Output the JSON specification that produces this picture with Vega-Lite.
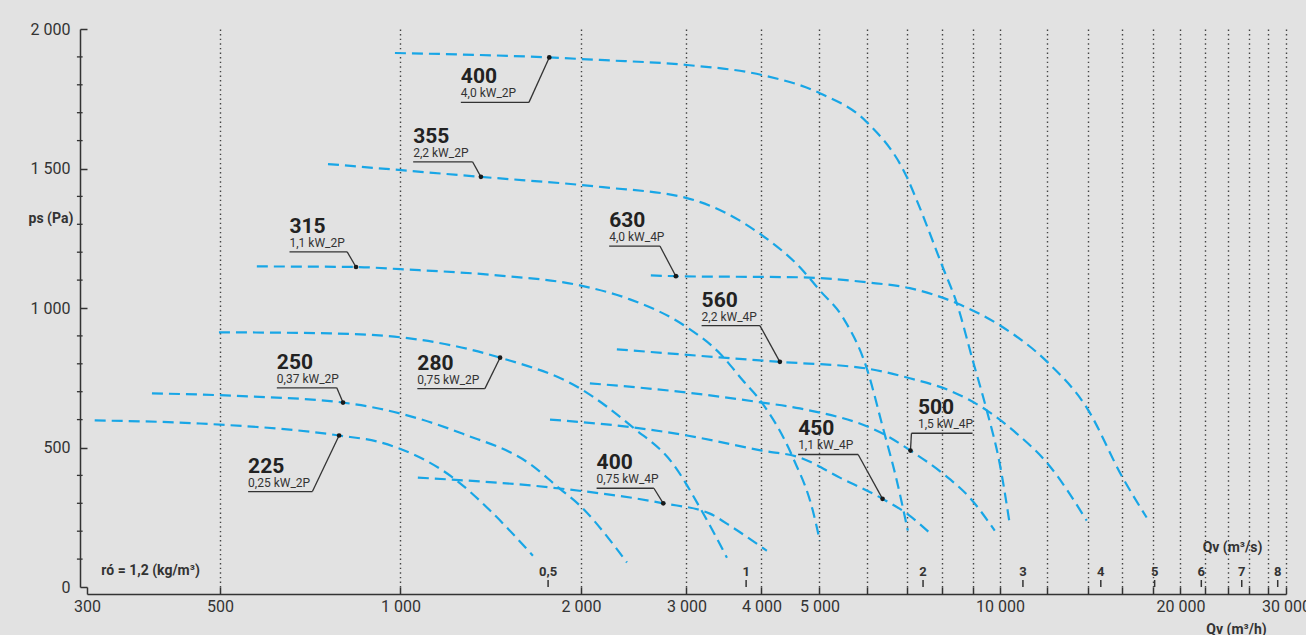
{
  "$schema": "https://vega.github.io/schema/vega-lite/v6.json",
  "width": 1199,
  "height": 558,
  "autosize": {"type": "none"},
  "padding": {"left": 87, "top": 29, "right": 20, "bottom": 48},
  "background": "#e2e2e2",
  "config": {"view": {"stroke": null}, "font": "Roboto"},
  "datasets": {
    "curves": [
      {"fan": "400_2P", "q": 979, "p": 1914}, {"fan": "400_2P", "q": 1771, "p": 1898}, {"fan": "400_2P", "q": 2151, "p": 1889}, {"fan": "400_2P", "q": 3005, "p": 1871}, {"fan": "400_2P", "q": 4007, "p": 1835}, {"fan": "400_2P", "q": 5006, "p": 1770}, {"fan": "400_2P", "q": 5997, "p": 1666}, {"fan": "400_2P", "q": 6993, "p": 1469}, {"fan": "400_2P", "q": 7265, "p": 1386}, {"fan": "400_2P", "q": 8028, "p": 1146}, {"fan": "400_2P", "q": 8472, "p": 1017}, {"fan": "400_2P", "q": 9008, "p": 812}, {"fan": "400_2P", "q": 9506, "p": 633}, {"fan": "400_2P", "q": 9991, "p": 442}, {"fan": "400_2P", "q": 10380, "p": 227},
      {"fan": "355_2P", "q": 757, "p": 1516}, {"fan": "355_2P", "q": 1362, "p": 1470}, {"fan": "355_2P", "q": 2176, "p": 1433}, {"fan": "355_2P", "q": 3005, "p": 1394}, {"fan": "355_2P", "q": 4007, "p": 1261}, {"fan": "355_2P", "q": 4637, "p": 1146}, {"fan": "355_2P", "q": 5006, "p": 1063}, {"fan": "355_2P", "q": 5469, "p": 966}, {"fan": "355_2P", "q": 5997, "p": 783}, {"fan": "355_2P", "q": 6377, "p": 572}, {"fan": "355_2P", "q": 6729, "p": 381}, {"fan": "355_2P", "q": 7019, "p": 202},
      {"fan": "315_2P", "q": 576, "p": 1149}, {"fan": "315_2P", "q": 843, "p": 1147}, {"fan": "315_2P", "q": 1000, "p": 1139}, {"fan": "315_2P", "q": 1449, "p": 1117}, {"fan": "315_2P", "q": 1992, "p": 1081}, {"fan": "315_2P", "q": 2414, "p": 1031}, {"fan": "315_2P", "q": 3005, "p": 931}, {"fan": "315_2P", "q": 3411, "p": 837}, {"fan": "315_2P", "q": 3726, "p": 740}, {"fan": "315_2P", "q": 4007, "p": 661}, {"fan": "315_2P", "q": 4514, "p": 464}, {"fan": "315_2P", "q": 4873, "p": 274}, {"fan": "315_2P", "q": 5006, "p": 166},
      {"fan": "630_4P", "q": 2616, "p": 1117}, {"fan": "630_4P", "q": 2880, "p": 1114}, {"fan": "630_4P", "q": 4637, "p": 1110}, {"fan": "630_4P", "q": 5997, "p": 1092}, {"fan": "630_4P", "q": 7073, "p": 1071}, {"fan": "630_4P", "q": 8472, "p": 1017}, {"fan": "630_4P", "q": 9991, "p": 938}, {"fan": "630_4P", "q": 12013, "p": 805}, {"fan": "630_4P", "q": 13953, "p": 643}, {"fan": "630_4P", "q": 16020, "p": 392}, {"fan": "630_4P", "q": 17566, "p": 249},
      {"fan": "560_4P", "q": 2296, "p": 852}, {"fan": "560_4P", "q": 3411, "p": 823}, {"fan": "560_4P", "q": 4294, "p": 807}, {"fan": "560_4P", "q": 5997, "p": 783}, {"fan": "560_4P", "q": 7073, "p": 748}, {"fan": "560_4P", "q": 8247, "p": 704}, {"fan": "560_4P", "q": 9506, "p": 633}, {"fan": "560_4P", "q": 10666, "p": 550}, {"fan": "560_4P", "q": 12013, "p": 442}, {"fan": "560_4P", "q": 13953, "p": 238},
      {"fan": "500_4P", "q": 2070, "p": 730}, {"fan": "500_4P", "q": 3005, "p": 697}, {"fan": "500_4P", "q": 4007, "p": 661}, {"fan": "500_4P", "q": 4637, "p": 640}, {"fan": "500_4P", "q": 6551, "p": 536}, {"fan": "500_4P", "q": 7091, "p": 489}, {"fan": "500_4P", "q": 8028, "p": 407}, {"fan": "500_4P", "q": 8905, "p": 320}, {"fan": "500_4P", "q": 9802, "p": 202},
      {"fan": "450_4P", "q": 1776, "p": 600}, {"fan": "450_4P", "q": 2442, "p": 572}, {"fan": "450_4P", "q": 3005, "p": 543}, {"fan": "450_4P", "q": 4007, "p": 489}, {"fan": "450_4P", "q": 4637, "p": 464}, {"fan": "450_4P", "q": 5406, "p": 392}, {"fan": "450_4P", "q": 6370, "p": 316}, {"fan": "450_4P", "q": 6993, "p": 263}, {"fan": "450_4P", "q": 7725, "p": 184},
      {"fan": "400_4P", "q": 1069, "p": 392}, {"fan": "400_4P", "q": 1845, "p": 353}, {"fan": "400_4P", "q": 2744, "p": 300}, {"fan": "400_4P", "q": 3282, "p": 263}, {"fan": "400_4P", "q": 3584, "p": 213}, {"fan": "400_4P", "q": 4085, "p": 130},
      {"fan": "280_2P", "q": 498, "p": 913}, {"fan": "280_2P", "q": 763, "p": 909}, {"fan": "280_2P", "q": 1000, "p": 895}, {"fan": "280_2P", "q": 1466, "p": 822}, {"fan": "280_2P", "q": 1992, "p": 712}, {"fan": "280_2P", "q": 2442, "p": 572}, {"fan": "280_2P", "q": 2847, "p": 442}, {"fan": "280_2P", "q": 3158, "p": 285}, {"fan": "280_2P", "q": 3504, "p": 105},
      {"fan": "250_2P", "q": 385, "p": 694}, {"fan": "250_2P", "q": 561, "p": 683}, {"fan": "250_2P", "q": 802, "p": 661}, {"fan": "250_2P", "q": 924, "p": 639}, {"fan": "250_2P", "q": 1271, "p": 549}, {"fan": "250_2P", "q": 1644, "p": 441}, {"fan": "250_2P", "q": 1845, "p": 352}, {"fan": "250_2P", "q": 1992, "p": 292}, {"fan": "250_2P", "q": 2262, "p": 154}, {"fan": "250_2P", "q": 2386, "p": 88},
      {"fan": "225_2P", "q": 309, "p": 597}, {"fan": "225_2P", "q": 463, "p": 586}, {"fan": "225_2P", "q": 790, "p": 543}, {"fan": "225_2P", "q": 924, "p": 519}, {"fan": "225_2P", "q": 1242, "p": 381}, {"fan": "225_2P", "q": 1411, "p": 274}, {"fan": "225_2P", "q": 1663, "p": 112}
    ],
    "labels": [
      {"size": "400", "power": "4,0 kW_2P", "tx": 1261, "lx": 1261, "rx": 1638, "ly": 1737, "cx": 1638, "dq": 1771, "dp": 1898},
      {"size": "355", "power": "2,2 kW_2P", "tx": 1050, "lx": 1050, "rx": 1319, "ly": 1524, "cx": 1319, "dq": 1362, "dp": 1470},
      {"size": "315", "power": "1,1 kW_2P", "tx": 653, "lx": 653, "rx": 815, "ly": 1201, "cx": 815, "dq": 843, "dp": 1147},
      {"size": "630", "power": "4,0 kW_4P", "tx": 2229, "lx": 2229, "rx": 2709, "ly": 1222, "cx": 2709, "dq": 2880, "dp": 1114},
      {"size": "560", "power": "2,2 kW_4P", "tx": 3179, "lx": 3179, "rx": 3977, "ly": 937, "cx": 3977, "dq": 4294, "dp": 807},
      {"size": "280", "power": "0,75 kW_2P", "tx": 1067, "lx": 1067, "rx": 1383, "ly": 711, "cx": 1383, "dq": 1466, "dp": 822},
      {"size": "250", "power": "0,37 kW_2P", "tx": 622, "lx": 622, "rx": 783, "ly": 714, "cx": 783, "dq": 802, "dp": 661},
      {"size": "225", "power": "0,25 kW_2P", "tx": 557, "lx": 557, "rx": 713, "ly": 342, "cx": 713, "dq": 790, "dp": 543},
      {"size": "400", "power": "0,75 kW_4P", "tx": 2124, "lx": 2124, "rx": 2647, "ly": 354, "cx": 2647, "dq": 2744, "dp": 300},
      {"size": "450", "power": "1,1 kW_4P", "tx": 4606, "lx": 4606, "rx": 5800, "ly": 475, "cx": 5800, "dq": 6370, "dp": 316},
      {"size": "500", "power": "1,5 kW_4P", "tx": 7296, "lx": 7118, "rx": 9000, "ly": 551, "cx": 7118, "dq": 7091, "dp": 489}
    ],
    "minor": [
      {"p": 100}, {"p": 200}, {"p": 300}, {"p": 400}, {"p": 600}, {"p": 700}, {"p": 800}, {"p": 900}, {"p": 1100}, {"p": 1200}, {"p": 1300}, {"p": 1400}, {"p": 1600}, {"p": 1700}, {"p": 1800}, {"p": 1900}
    ],
    "ms": [
      {"ms": "0,5", "q": 1763}, {"ms": "1", "q": 3772}, {"ms": "2", "q": 7442}, {"ms": "3", "q": 10922}, {"ms": "4", "q": 14730}, {"ms": "5", "q": 18113}, {"ms": "6", "q": 21670}, {"ms": "7", "q": 25310}, {"ms": "8", "q": 29060}
    ],
    "notes": [
      {"t": "ró = 1,2 (kg/m³)", "q": 317, "p": 57},
      {"t": "Qv (m³/s)", "q": 21780, "p": 141}
    ]
  },
  "layer": [
    {
      "data": {"name": "curves"},
      "mark": {"type": "line", "color": "#18a6e6", "strokeWidth": 2.2, "strokeDash": [11, 6], "interpolate": "monotone"},
      "encoding": {
        "x": {
          "field": "q", "type": "quantitative",
          "scale": {"type": "log", "domain": [300, 30000], "nice": false},
          "axis": {
            "values": [300, 500, 1000, 2000, 3000, 4000, 5000, 6000, 7000, 8000, 9000, 10000, 12000, 14000, 16000, 18000, 20000, 22000, 24000, 26000, 28000, 30000],
            "labelExpr": "indexof([300,500,1000,2000,3000,4000,5000,10000,20000,30000], datum.value) >= 0 ? replace(format(datum.value, ','), ',', ' ') : ''",
            "offset": 7,
            "domainColor": "#333", "domainWidth": 1.5,
            "ticks": true, "tickSize": -7, "tickColor": "#333", "tickWidth": 1.5,
            "grid": true, "gridColor": "#444", "gridWidth": 1.4, "gridDash": [1.4, 3.2],
            "gridOpacity": {"condition": {"test": "datum.value > 300", "value": 1}, "value": 0},
            "labelFont": "Roboto", "labelFontSize": 16, "labelColor": "#333", "labelPadding": 11,
            "labelFlush": false, "labelOverlap": false, "labelBound": false,
            "title": "Qv (m³/h)", "titleFont": "Roboto", "titleFontSize": 14, "titleFontWeight": "bold", "titleColor": "#333",
            "titleX": 1149, "titleY": 35, "titleAlign": "center", "titleBaseline": "middle"
          }
        },
        "y": {
          "field": "p", "type": "quantitative",
          "scale": {"domain": [0, 2000], "nice": false},
          "axis": {
            "values": [0, 500, 1000, 1500, 2000],
            "labelExpr": "replace(format(datum.value, ','), ',', ' ')",
            "offset": 7,
            "domainColor": "#333", "domainWidth": 1.5,
            "tickSize": -7,
            "tickColor": "#333", "tickWidth": 1.5,
            "grid": false,
            "labelFont": "Roboto", "labelFontSize": 16, "labelColor": "#333", "labelPadding": 17, "labelOverlap": false, "labelBound": false, "labelFlush": false,
            "title": "ps (Pa)", "titleAngle": 0, "titleX": -52, "titleY": 189, "titleAlign": "left", "titleBaseline": "middle",
            "titleFont": "Roboto", "titleFontSize": 14, "titleFontWeight": "bold", "titleColor": "#333"
          }
        },
        "detail": {"field": "fan"}
      }
    },
    {
      "mark": {"type": "rule", "color": "#333", "strokeWidth": 1.5},
      "encoding": {"x": {"datum": 300}, "y": {"datum": 0}, "y2": {"datum": 2000}}
    },
    {
      "mark": {"type": "rule", "color": "#333", "strokeWidth": 1.5},
      "encoding": {"y": {"datum": 0}, "x": {"datum": 300}, "x2": {"datum": 30000}}
    },
    {
      "mark": {"type": "rule", "color": "#333", "strokeWidth": 1.5},
      "encoding": {"x": {"datum": 292}, "y": {"datum": 0}, "y2": {"datum": -26}}
    },
    {
      "mark": {"type": "rule", "color": "#333", "strokeWidth": 1.5},
      "encoding": {"y": {"datum": -26}, "x": {"datum": 292}, "x2": {"datum": 300}}
    },
    {
      "data": {"name": "minor"},
      "mark": {"type": "rule", "color": "#333", "strokeWidth": 1.3},
      "encoding": {"y": {"field": "p", "type": "quantitative"}, "x": {"datum": 288.6}, "x2": {"datum": 295}}
    },
    {
      "mark": {"type": "rule", "color": "#444", "strokeWidth": 1.4, "strokeDash": [1.4, 3.2]},
      "encoding": {"y": {"datum": 2000}, "x": {"datum": 300}, "x2": {"datum": 30000}}
    },
    {
      "data": {"name": "ms"},
      "mark": {"type": "rule", "color": "#333", "strokeWidth": 1.5},
      "encoding": {"x": {"field": "q", "type": "quantitative"}, "y": {"datum": 0}, "y2": {"datum": 25}}
    },
    {
      "data": {"name": "ms"},
      "mark": {"type": "text", "font": "Roboto", "fontSize": 13, "fontWeight": "bold", "color": "#333", "baseline": "middle", "align": "center"},
      "encoding": {"x": {"field": "q", "type": "quantitative"}, "y": {"datum": 52}, "text": {"field": "ms"}}
    },
    {
      "data": {"name": "notes"},
      "mark": {"type": "text", "font": "Roboto", "fontSize": 14, "fontWeight": "bold", "color": "#333", "baseline": "middle", "align": "left"},
      "encoding": {"x": {"field": "q", "type": "quantitative"}, "y": {"field": "p", "type": "quantitative"}, "text": {"field": "t"}}
    },
    {
      "data": {"name": "labels"},
      "mark": {"type": "rule", "color": "#333", "strokeWidth": 1.3},
      "encoding": {"x": {"field": "lx", "type": "quantitative"}, "x2": {"field": "rx"}, "y": {"field": "ly", "type": "quantitative"}}
    },
    {
      "data": {"name": "labels"},
      "mark": {"type": "rule", "color": "#333", "strokeWidth": 1.3},
      "encoding": {"x": {"field": "cx", "type": "quantitative"}, "x2": {"field": "dq"}, "y": {"field": "ly", "type": "quantitative"}, "y2": {"field": "dp"}}
    },
    {
      "data": {"name": "labels"},
      "mark": {"type": "point", "filled": true, "color": "#1a1a1a", "size": 22, "opacity": 1},
      "encoding": {"x": {"field": "dq", "type": "quantitative"}, "y": {"field": "dp", "type": "quantitative"}}
    },
    {
      "data": {"name": "labels"},
      "mark": {"type": "text", "font": "Roboto", "fontSize": 21, "fontWeight": "bold", "color": "#222", "align": "left", "baseline": "alphabetic", "dy": -19},
      "encoding": {"x": {"field": "tx", "type": "quantitative"}, "y": {"field": "ly", "type": "quantitative"}, "text": {"field": "size"}}
    },
    {
      "data": {"name": "labels"},
      "mark": {"type": "text", "font": "Roboto", "fontSize": 12, "color": "#333", "align": "left", "baseline": "alphabetic", "dy": -5},
      "encoding": {"x": {"field": "tx", "type": "quantitative"}, "y": {"field": "ly", "type": "quantitative"}, "text": {"field": "power"}}
    }
  ]
}
